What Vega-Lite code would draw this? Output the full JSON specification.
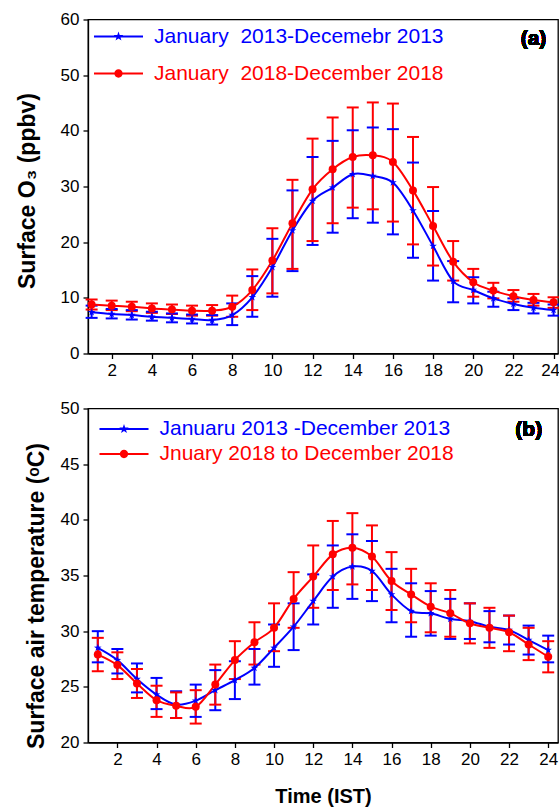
{
  "$schema": "https://vega.github.io/schema/vega-lite/v6.json",
  "padding": {"left": 15, "top": 9.5, "right": 0, "bottom": 0},
  "bounds": "flush",
  "spacing": 55,
  "background": "white",
  "config": {
    "view": {"stroke": "#000", "strokeWidth": 1.3},
    "axis": {"labelFont": "Liberation Sans", "labelFontSize": 17, "labelColor": "#000", "titleFont": "Liberation Sans", "titleFontWeight": "bold", "titleColor": "#000", "tickColor": "#000", "domainColor": "#000", "tickSize": 5, "tickWidth": 1.3, "domainWidth": 1.3, "grid": false, "labelPadding": 4}
  },
  "resolve": {"scale": {"color": "independent", "x": "independent", "y": "independent"}, "legend": {"color": "independent"}},
  "datasets": {
    "o3": [
      {"h":1,"s":"January\u00a0 2013-Decemebr 2013","v":7.4,"lo":6.4,"hi":8.6},{"h":2,"s":"January\u00a0 2013-Decemebr 2013","v":7.1,"lo":6.3,"hi":8.0},{"h":3,"s":"January\u00a0 2013-Decemebr 2013","v":6.9,"lo":6.1,"hi":7.8},{"h":4,"s":"January\u00a0 2013-Decemebr 2013","v":6.6,"lo":5.9,"hi":7.5},{"h":5,"s":"January\u00a0 2013-Decemebr 2013","v":6.4,"lo":5.6,"hi":7.2},{"h":6,"s":"January\u00a0 2013-Decemebr 2013","v":6.2,"lo":5.4,"hi":7.0},{"h":7,"s":"January\u00a0 2013-Decemebr 2013","v":6.0,"lo":5.2,"hi":6.9},{"h":8,"s":"January\u00a0 2013-Decemebr 2013","v":6.9,"lo":5.1,"hi":9.0},{"h":9,"s":"January\u00a0 2013-Decemebr 2013","v":10.1,"lo":6.6,"hi":13.9},{"h":10,"s":"January\u00a0 2013-Decemebr 2013","v":15.5,"lo":10.2,"hi":20.6},{"h":11,"s":"January\u00a0 2013-Decemebr 2013","v":22.1,"lo":14.8,"hi":29.3},{"h":12,"s":"January\u00a0 2013-Decemebr 2013","v":27.4,"lo":19.5,"hi":35.3},{"h":13,"s":"January\u00a0 2013-Decemebr 2013","v":29.8,"lo":21.7,"hi":38.2},{"h":14,"s":"January\u00a0 2013-Decemebr 2013","v":32.2,"lo":24.3,"hi":40.1},{"h":15,"s":"January\u00a0 2013-Decemebr 2013","v":31.9,"lo":23.5,"hi":40.6},{"h":16,"s":"January\u00a0 2013-Decemebr 2013","v":30.7,"lo":21.4,"hi":40.3},{"h":17,"s":"January\u00a0 2013-Decemebr 2013","v":25.7,"lo":17.2,"hi":34.3},{"h":18,"s":"January\u00a0 2013-Decemebr 2013","v":19.3,"lo":13.1,"hi":25.6},{"h":19,"s":"January\u00a0 2013-Decemebr 2013","v":13.0,"lo":9.2,"hi":16.6},{"h":20,"s":"January\u00a0 2013-Decemebr 2013","v":11.4,"lo":9.0,"hi":13.7},{"h":21,"s":"January\u00a0 2013-Decemebr 2013","v":9.9,"lo":8.4,"hi":11.1},{"h":22,"s":"January\u00a0 2013-Decemebr 2013","v":8.9,"lo":7.8,"hi":9.9},{"h":23,"s":"January\u00a0 2013-Decemebr 2013","v":8.2,"lo":7.2,"hi":9.1},{"h":24,"s":"January\u00a0 2013-Decemebr 2013","v":7.8,"lo":6.8,"hi":8.8},
      {"h":1,"s":"January\u00a0 2018-December 2018","v":8.8,"lo":7.9,"hi":9.7},{"h":2,"s":"January\u00a0 2018-December 2018","v":8.6,"lo":7.8,"hi":9.5},{"h":3,"s":"January\u00a0 2018-December 2018","v":8.4,"lo":7.6,"hi":9.3},{"h":4,"s":"January\u00a0 2018-December 2018","v":8.1,"lo":7.3,"hi":9.0},{"h":5,"s":"January\u00a0 2018-December 2018","v":7.9,"lo":7.1,"hi":8.8},{"h":6,"s":"January\u00a0 2018-December 2018","v":7.7,"lo":6.8,"hi":8.6},{"h":7,"s":"January\u00a0 2018-December 2018","v":7.7,"lo":6.8,"hi":8.7},{"h":8,"s":"January\u00a0 2018-December 2018","v":8.4,"lo":6.6,"hi":10.4},{"h":9,"s":"January\u00a0 2018-December 2018","v":11.4,"lo":7.8,"hi":15.1},{"h":10,"s":"January\u00a0 2018-December 2018","v":16.7,"lo":10.8,"hi":22.5},{"h":11,"s":"January\u00a0 2018-December 2018","v":23.4,"lo":15.2,"hi":31.2},{"h":12,"s":"January\u00a0 2018-December 2018","v":29.5,"lo":20.2,"hi":38.6},{"h":13,"s":"January\u00a0 2018-December 2018","v":33.1,"lo":23.4,"hi":42.4},{"h":14,"s":"January\u00a0 2018-December 2018","v":35.3,"lo":26.2,"hi":44.2},{"h":15,"s":"January\u00a0 2018-December 2018","v":35.6,"lo":25.9,"hi":45.1},{"h":16,"s":"January\u00a0 2018-December 2018","v":34.4,"lo":23.7,"hi":44.9},{"h":17,"s":"January\u00a0 2018-December 2018","v":29.3,"lo":19.6,"hi":38.9},{"h":18,"s":"January\u00a0 2018-December 2018","v":22.9,"lo":15.8,"hi":29.9},{"h":19,"s":"January\u00a0 2018-December 2018","v":16.5,"lo":13.1,"hi":20.2},{"h":20,"s":"January\u00a0 2018-December 2018","v":12.8,"lo":10.2,"hi":15.2},{"h":21,"s":"January\u00a0 2018-December 2018","v":11.3,"lo":9.9,"hi":12.7},{"h":22,"s":"January\u00a0 2018-December 2018","v":10.3,"lo":9.3,"hi":11.4},{"h":23,"s":"January\u00a0 2018-December 2018","v":9.6,"lo":8.6,"hi":10.7},{"h":24,"s":"January\u00a0 2018-December 2018","v":9.2,"lo":8.2,"hi":10.1}
    ],
    "temp": [
      {"h":1,"s":"Januaru 2013 -December 2013","v":28.5,"lo":27.2,"hi":30.0},{"h":2,"s":"Januaru 2013 -December 2013","v":27.4,"lo":26.2,"hi":28.4},{"h":3,"s":"Januaru 2013 -December 2013","v":25.7,"lo":24.5,"hi":27.1},{"h":4,"s":"Januaru 2013 -December 2013","v":24.3,"lo":23.0,"hi":25.8},{"h":5,"s":"Januaru 2013 -December 2013","v":23.4,"lo":22.2,"hi":24.6},{"h":6,"s":"Januaru 2013 -December 2013","v":23.75,"lo":22.3,"hi":25.2},{"h":7,"s":"Januaru 2013 -December 2013","v":24.7,"lo":22.9,"hi":26.5},{"h":8,"s":"Januaru 2013 -December 2013","v":25.6,"lo":23.9,"hi":27.3},{"h":9,"s":"Januaru 2013 -December 2013","v":26.7,"lo":25.2,"hi":28.4},{"h":10,"s":"Januaru 2013 -December 2013","v":28.5,"lo":26.8,"hi":30.6},{"h":11,"s":"Januaru 2013 -December 2013","v":30.4,"lo":28.3,"hi":32.5},{"h":12,"s":"Januaru 2013 -December 2013","v":32.7,"lo":30.6,"hi":35.1},{"h":13,"s":"Januaru 2013 -December 2013","v":34.9,"lo":32.1,"hi":37.7},{"h":14,"s":"Januaru 2013 -December 2013","v":35.8,"lo":32.9,"hi":38.7},{"h":15,"s":"Januaru 2013 -December 2013","v":35.4,"lo":32.7,"hi":38.1},{"h":16,"s":"Januaru 2013 -December 2013","v":33.3,"lo":30.8,"hi":35.6},{"h":17,"s":"Januaru 2013 -December 2013","v":31.8,"lo":29.5,"hi":34.3},{"h":18,"s":"Januaru 2013 -December 2013","v":31.6,"lo":29.6,"hi":33.6},{"h":19,"s":"Januaru 2013 -December 2013","v":31.1,"lo":29.3,"hi":32.9},{"h":20,"s":"Januaru 2013 -December 2013","v":30.9,"lo":29.3,"hi":32.5},{"h":21,"s":"Januaru 2013 -December 2013","v":30.4,"lo":29.0,"hi":31.8},{"h":22,"s":"Januaru 2013 -December 2013","v":30.1,"lo":28.8,"hi":31.4},{"h":23,"s":"Januaru 2013 -December 2013","v":29.2,"lo":27.9,"hi":30.5},{"h":24,"s":"Januaru 2013 -December 2013","v":28.3,"lo":27.2,"hi":29.6},
      {"h":1,"s":"Jnuary 2018 to December 2018","v":27.9,"lo":26.4,"hi":29.4},{"h":2,"s":"Jnuary 2018 to December 2018","v":26.95,"lo":25.7,"hi":28.1},{"h":3,"s":"Jnuary 2018 to December 2018","v":25.3,"lo":24.0,"hi":26.6},{"h":4,"s":"Jnuary 2018 to December 2018","v":23.8,"lo":22.3,"hi":25.1},{"h":5,"s":"Jnuary 2018 to December 2018","v":23.3,"lo":22.2,"hi":24.5},{"h":6,"s":"Jnuary 2018 to December 2018","v":23.2,"lo":21.7,"hi":24.7},{"h":7,"s":"Jnuary 2018 to December 2018","v":25.2,"lo":23.4,"hi":27.0},{"h":8,"s":"Jnuary 2018 to December 2018","v":27.4,"lo":25.7,"hi":29.1},{"h":9,"s":"Jnuary 2018 to December 2018","v":29.0,"lo":27.0,"hi":30.8},{"h":10,"s":"Jnuary 2018 to December 2018","v":30.3,"lo":28.2,"hi":32.5},{"h":11,"s":"Jnuary 2018 to December 2018","v":32.9,"lo":30.3,"hi":35.3},{"h":12,"s":"Jnuary 2018 to December 2018","v":34.9,"lo":32.1,"hi":37.7},{"h":13,"s":"Jnuary 2018 to December 2018","v":36.9,"lo":33.7,"hi":39.9},{"h":14,"s":"Jnuary 2018 to December 2018","v":37.5,"lo":34.2,"hi":40.6},{"h":15,"s":"Jnuary 2018 to December 2018","v":36.7,"lo":33.7,"hi":39.5},{"h":16,"s":"Jnuary 2018 to December 2018","v":34.5,"lo":31.9,"hi":37.1},{"h":17,"s":"Jnuary 2018 to December 2018","v":33.3,"lo":30.8,"hi":35.6},{"h":18,"s":"Jnuary 2018 to December 2018","v":32.2,"lo":29.9,"hi":34.3},{"h":19,"s":"Jnuary 2018 to December 2018","v":31.6,"lo":29.5,"hi":33.7},{"h":20,"s":"Jnuary 2018 to December 2018","v":30.7,"lo":28.9,"hi":32.5},{"h":21,"s":"Jnuary 2018 to December 2018","v":30.3,"lo":28.5,"hi":32.1},{"h":22,"s":"Jnuary 2018 to December 2018","v":29.9,"lo":28.2,"hi":31.4},{"h":23,"s":"Jnuary 2018 to December 2018","v":28.8,"lo":27.4,"hi":30.3},{"h":24,"s":"Jnuary 2018 to December 2018","v":27.7,"lo":26.3,"hi":29.1}
    ]
  },
  "vconcat": [
    {
      "width": 470, "height": 334,
      "data": {"name": "o3"},
      "encoding": {
        "x": {"field": "h", "type": "quantitative", "scale": {"domain": [0.82, 24.22], "nice": false, "zero": false},
              "axis": {"values": [2,4,6,8,10,12,14,16,18,20,22,24], "title": null, "labelFlush": 6, "labelFlushOffset": 6}},
        "y": {"field": "v", "type": "quantitative", "scale": {"domain": [0, 60], "nice": false},
            "axis": {"values": [0,10,20,30,40,50,60], "title": "Surface O₃ (ppbv)", "titleFontSize": 23, "titleX": -54, "titleY": 171, "titleBaseline": "alphabetic", "titleAngle": -90, "titleAlign": "center"}},
        "color": {"field": "s", "type": "nominal", "scale": {"domain": ["January\u00a0 2013-Decemebr 2013", "January\u00a0 2018-December 2018"], "range": ["#0000ff", "#ff0000"]},
          "legend": {
            "orient": "none", "legendX": 20, "legendY": 6.5, "direction": "vertical", "title": null, "padding": 0, "offset": 0,
            "labelFont": "Liberation Sans", "labelFontSize": 21, "labelLimit": 1000, "labelOffset": 25, "rowPadding": 15,
            "labelColor": {"expr": "indexof(datum.value, '2013') >= 0 ? '#0000ff' : '#ff0000'"},
            "symbolType": {"expr": "indexof(datum.value, '2013') >= 0 ? 'M-3,-0.12H3V0.12H-3ZM0,-0.61L0.144,-0.198L0.58,-0.189L0.233,0.076L0.359,0.494L0,0.245L-0.359,0.494L-0.233,0.076L-0.58,-0.189L-0.144,-0.198Z' : 'M-3,-0.12H3V0.12H-3ZM0.51,0A0.51,0.51,0,1,1,-0.51,0A0.51,0.51,0,1,1,0.51,0Z'"},
            "symbolSize": 267, "symbolStrokeWidth": 0, "symbolOpacity": 1
          }
        }
      },
      "layer": [
        {"mark": {"type": "rule", "strokeWidth": 2}, "encoding": {"y": {"field": "lo", "type": "quantitative"}, "y2": {"field": "hi"}}},
        {"mark": {"type": "tick", "orient": "horizontal", "size": 12, "thickness": 2, "opacity": 1}, "encoding": {"y": {"field": "lo", "type": "quantitative"}}},
        {"mark": {"type": "tick", "orient": "horizontal", "size": 12, "thickness": 2, "opacity": 1}, "encoding": {"y": {"field": "hi", "type": "quantitative"}}},
        {"mark": {"type": "line", "interpolate": "cardinal", "strokeWidth": 2}, "encoding": {}},
        {"transform": [{"filter": "indexof(datum.s, '2013') >= 0"}],
         "mark": {"type": "point", "filled": true, "opacity": 1, "size": 64, "shape": "M0,-1L0.235,-0.324L0.951,-0.309L0.38,0.124L0.588,0.809L0,0.4L-0.588,0.809L-0.38,0.124L-0.951,-0.309L-0.235,-0.324Z"}, "encoding": {}},
        {"transform": [{"filter": "indexof(datum.s, '2018') >= 0"}],
         "mark": {"type": "point", "filled": true, "opacity": 1, "size": 64, "shape": "circle"}, "encoding": {}},
        {"mark": {"type": "text", "text": "(a)", "align": "right", "baseline": "alphabetic", "font": "Liberation Sans", "fontSize": 21, "fontWeight": "bold", "color": "#000"},
         "encoding": {"x": {"datum": 23.64}, "y": {"datum": 55.5}, "color": {"value": "#000"}}}
      ]
    },
    {
      "width": 470, "height": 334,
      "data": {"name": "temp"},
      "encoding": {
        "x": {"field": "h", "type": "quantitative", "scale": {"domain": [0.5, 24.5], "nice": false, "zero": false},
              "axis": {"values": [2,4,6,8,10,12,14,16,18,20,22,24], "title": "Time (IST)", "titleFontSize": 20, "titleY": 60, "titleBaseline": "alphabetic"}},
        "y": {"field": "v", "type": "quantitative", "scale": {"domain": [20, 50], "nice": false, "zero": false},
            "axis": {"values": [20,25,30,35,40,45,50], "title": "Surface air temperature (ᵒC)", "titleFontSize": 23, "titleX": -45, "titleY": 187, "titleBaseline": "alphabetic", "titleAngle": -90, "titleAlign": "center"}},
        "color": {"field": "s", "type": "nominal", "scale": {"domain": ["Januaru 2013 -December 2013", "Jnuary 2018 to December 2018"], "range": ["#0000ff", "#ff0000"]},
          "legend": {
            "orient": "none", "legendX": 25.5, "legendY": 10, "direction": "vertical", "title": null, "padding": 0, "offset": 0,
            "labelFont": "Liberation Sans", "labelFontSize": 21, "labelLimit": 1000, "labelOffset": 25, "rowPadding": 3,
            "labelColor": {"expr": "indexof(datum.value, '2013') >= 0 ? '#0000ff' : '#ff0000'"},
            "symbolType": {"expr": "indexof(datum.value, '2013') >= 0 ? 'M-3,-0.12H3V0.12H-3ZM0,-0.61L0.144,-0.198L0.58,-0.189L0.233,0.076L0.359,0.494L0,0.245L-0.359,0.494L-0.233,0.076L-0.58,-0.189L-0.144,-0.198Z' : 'M-3,-0.12H3V0.12H-3ZM0.51,0A0.51,0.51,0,1,1,-0.51,0A0.51,0.51,0,1,1,0.51,0Z'"},
            "symbolSize": 267, "symbolStrokeWidth": 0, "symbolOpacity": 1
          }
        }
      },
      "layer": [
        {"mark": {"type": "rule", "strokeWidth": 2}, "encoding": {"y": {"field": "lo", "type": "quantitative"}, "y2": {"field": "hi"}}},
        {"mark": {"type": "tick", "orient": "horizontal", "size": 12, "thickness": 2, "opacity": 1}, "encoding": {"y": {"field": "lo", "type": "quantitative"}}},
        {"mark": {"type": "tick", "orient": "horizontal", "size": 12, "thickness": 2, "opacity": 1}, "encoding": {"y": {"field": "hi", "type": "quantitative"}}},
        {"mark": {"type": "line", "interpolate": "cardinal", "strokeWidth": 2}, "encoding": {}},
        {"transform": [{"filter": "indexof(datum.s, '2013') >= 0"}],
         "mark": {"type": "point", "filled": true, "opacity": 1, "size": 64, "shape": "M0,-1L0.235,-0.324L0.951,-0.309L0.38,0.124L0.588,0.809L0,0.4L-0.588,0.809L-0.38,0.124L-0.951,-0.309L-0.235,-0.324Z"}, "encoding": {}},
        {"transform": [{"filter": "indexof(datum.s, '2018') >= 0"}],
         "mark": {"type": "point", "filled": true, "opacity": 1, "size": 64, "shape": "circle"}, "encoding": {}},
        {"mark": {"type": "text", "text": "(b)", "align": "right", "baseline": "alphabetic", "font": "Liberation Sans", "fontSize": 21, "fontWeight": "bold", "color": "#000"},
         "encoding": {"x": {"datum": 23.69}, "y": {"datum": 47.5}, "color": {"value": "#000"}}}
      ]
    }
  ]
}
